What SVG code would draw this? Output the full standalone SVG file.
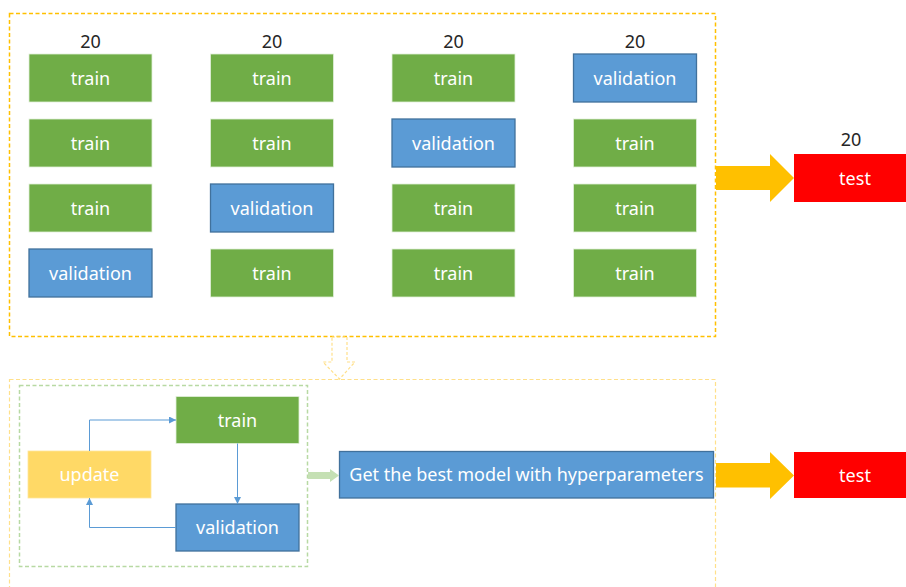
<svg xmlns="http://www.w3.org/2000/svg" width="906" height="587" viewBox="0 0 906 587">
<style>
.t{fill:#70AD47;stroke:#E2EFDA;stroke-width:0.8}
.v{fill:#5B9BD5;stroke:#41719C;stroke-width:1.3}
.r{fill:#FF0000}
.lbl{font-family:"Noto Sans","Open Sans",sans-serif;font-size:18px;fill:#FFFFFF;text-anchor:middle}
.num{font-family:"Noto Sans","Open Sans",sans-serif;font-size:18px;fill:#262626;text-anchor:middle}
.conn{fill:none;stroke:#5B9BD5;stroke-width:1}
</style>
<defs>
<marker id="ah" viewBox="0 0 10 10" refX="10" refY="5" markerWidth="7" markerHeight="7" markerUnits="userSpaceOnUse" orient="auto">
<path d="M0,0 L10,5 L0,10 z" fill="#5B9BD5"/>
</marker>
</defs>
<rect width="906" height="587" fill="#FFFFFF"/>
<!-- containers -->
<rect x="9.5" y="13.5" width="706" height="323" fill="none" stroke="#FFC000" stroke-width="1.5" stroke-dasharray="4 2.5"/>
<rect x="9.5" y="379.5" width="706" height="215" fill="none" stroke="#FFE08A" stroke-width="1.2" stroke-dasharray="4 2.5"/>
<rect x="19.5" y="385.5" width="288" height="181" fill="none" stroke="#B8D9A3" stroke-width="1.5" stroke-dasharray="4 2.5"/>
<!-- column headers -->
<text class="num" x="90.5" y="47.5">20</text>
<text class="num" x="272" y="47.5">20</text>
<text class="num" x="453.5" y="47.5">20</text>
<text class="num" x="635" y="47.5">20</text>
<text class="num" x="851" y="146">20</text>
<!-- grid -->
<g id="c1r1"><rect class="t" x="29" y="54" width="123" height="48"/><text class="lbl" x="90.5" y="84.5">train</text></g>
<g id="c1r2"><rect class="t" x="29" y="119" width="123" height="48"/><text class="lbl" x="90.5" y="149.5">train</text></g>
<g id="c1r3"><rect class="t" x="29" y="184" width="123" height="48"/><text class="lbl" x="90.5" y="214.5">train</text></g>
<g id="c1r4"><rect class="v" x="29" y="249" width="123" height="48"/><text class="lbl" x="90.5" y="279.5">validation</text></g>
<g id="c2r1"><rect class="t" x="210.5" y="54" width="123" height="48"/><text class="lbl" x="272" y="84.5">train</text></g>
<g id="c2r2"><rect class="t" x="210.5" y="119" width="123" height="48"/><text class="lbl" x="272" y="149.5">train</text></g>
<g id="c2r3"><rect class="v" x="210.5" y="184" width="123" height="48"/><text class="lbl" x="272" y="214.5">validation</text></g>
<g id="c2r4"><rect class="t" x="210.5" y="249" width="123" height="48"/><text class="lbl" x="272" y="279.5">train</text></g>
<g id="c3r1"><rect class="t" x="392" y="54" width="123" height="48"/><text class="lbl" x="453.5" y="84.5">train</text></g>
<g id="c3r2"><rect class="v" x="392" y="119" width="123" height="48"/><text class="lbl" x="453.5" y="149.5">validation</text></g>
<g id="c3r3"><rect class="t" x="392" y="184" width="123" height="48"/><text class="lbl" x="453.5" y="214.5">train</text></g>
<g id="c3r4"><rect class="t" x="392" y="249" width="123" height="48"/><text class="lbl" x="453.5" y="279.5">train</text></g>
<g id="c4r1"><rect class="v" x="573.5" y="54" width="123" height="48"/><text class="lbl" x="635" y="84.5">validation</text></g>
<g id="c4r2"><rect class="t" x="573.5" y="119" width="123" height="48"/><text class="lbl" x="635" y="149.5">train</text></g>
<g id="c4r3"><rect class="t" x="573.5" y="184" width="123" height="48"/><text class="lbl" x="635" y="214.5">train</text></g>
<g id="c4r4"><rect class="t" x="573.5" y="249" width="123" height="48"/><text class="lbl" x="635" y="279.5">train</text></g>
<g id="test1"><rect class="r" x="794" y="154" width="112" height="48"/><text class="lbl" x="855" y="184.5">test</text></g>
<!-- bottom nodes -->
<g id="train"><rect class="t" x="176" y="396.5" width="123" height="47"/><text class="lbl" x="237.5" y="426.5">train</text></g>
<g id="update"><rect fill="#FFD966" stroke="#FFE699" stroke-width="0.8" x="28" y="451" width="123" height="47"/><text class="lbl" x="89.5" y="481">update</text></g>
<g id="validation"><rect class="v" x="176" y="504" width="123" height="47"/><text class="lbl" x="237.5" y="533.5">validation</text></g>
<g id="best"><rect class="v" x="339.5" y="451.5" width="374" height="46.5"/><text class="lbl" x="526.5" y="481">Get the best model with hyperparameters</text></g>
<g id="test2"><rect class="r" x="794" y="452" width="112" height="46"/><text class="lbl" x="855" y="481.5">test</text></g>
<!-- connectors -->
<g id="connectors">
<path d="M716,166 H770 V154 L794,178 L770,202 V190 H716 Z" fill="#FFC000"/>
<path d="M716,463 H770 V452 L794,475.5 L770,499 V487.5 H716 Z" fill="#FFC000"/>
<path d="M332,337 H347 V362 H355 L339.5,379 L323,362 H332 Z" fill="none" stroke="#FFE08A" stroke-width="1.2" stroke-dasharray="3 2"/>
<path d="M308,472 H330 V469 L339,475.5 L330,482 V479 H308 Z" fill="#C5E0B4"/>
<path class="conn" d="M89.5,451 V420 H176" marker-end="url(#ah)"/>
<path class="conn" d="M237.5,443.5 V504" marker-end="url(#ah)"/>
<path class="conn" d="M176,527.5 H89.5 V498" marker-end="url(#ah)"/>
</g>
</svg>
